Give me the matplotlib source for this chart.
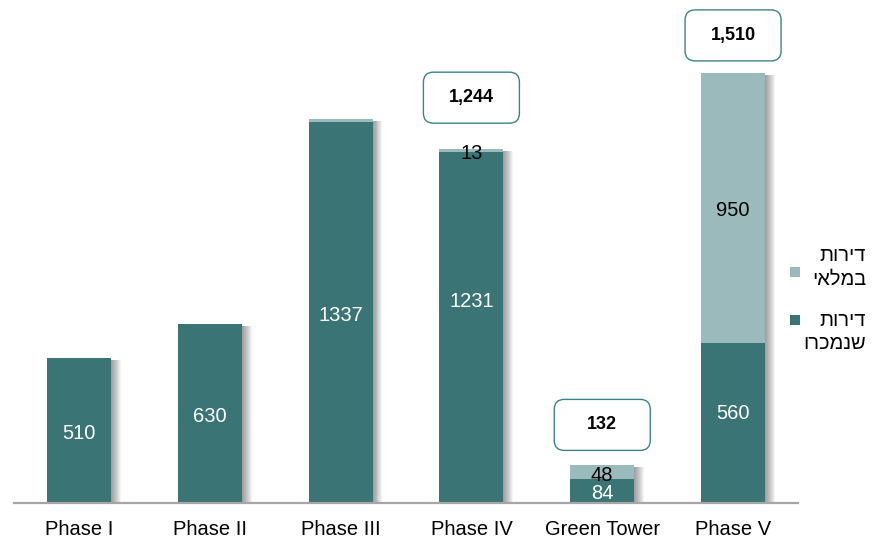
import matplotlib
matplotlib.use("Agg")
import matplotlib.pyplot as plt
import matplotlib.patheffects as pe
from matplotlib.patches import FancyBboxPatch, Rectangle
from matplotlib.transforms import ScaledTranslation
import numpy as np

plt.rcParams['font.family'] = ['Liberation Sans', 'DejaVu Sans']

# Data
categories = ["Phase I", "Phase II", "Phase III", "Phase IV", "Green Tower", "Phase V"]
sold = [510, 630, 1337, 1231, 84, 560]
inventory = [0, 0, 11, 13, 48, 950]
inventory_labels = [None, None, None, "13", "48", "950"]
totals = [None, None, None, 1244, 132, 1510]
total_labels = [None, None, None, "1,244", "132", "1,510"]
legend_labels = ["דירות\nבמלאי", "דירות\nשנמכרו"]

# Styling
DARK = "#3A7474"
LIGHT = "#9BBABB"
BOX_EDGE = "#3C8484"
GRID = "#A6A6A6"

W, H, DPI = 881, 539, 100
fig = plt.figure(figsize=(W / DPI, H / DPI), dpi=DPI)
ax = fig.add_axes([13.5 / W, 36 / H, 785 / W, 503 / H])

x = np.arange(len(categories))
width = 0.49
stack_top = np.array(sold) + np.array(inventory)

# soft drop shadow behind every stacked column
shadow = [pe.SimplePatchShadow(offset=(o, -1.4), shadow_rgbFace="black", alpha=0.045)
          for o in (0.7, 1.4, 2.1, 2.8, 3.5, 4.2, 4.9, 5.6, 6.3, 7.0)]
shadow_bars = ax.bar(x, stack_top, width, color="white", zorder=1)
for b in shadow_bars:
    b.set_path_effects(shadow)

bars_sold = ax.bar(x, sold, width, color=DARK, zorder=2)
bars_inv = ax.bar(x, inventory, width, bottom=sold, color=LIGHT, zorder=2)

ax.set_xlim(-0.5, 5.5)
ax.set_ylim(0, 1766)

# labels on the sold segments (a couple are nudged upward)
sold_nudge = [0, 0, 0, 21, 0, 9]
for xi, v, n in zip(x, sold, sold_nudge):
    ax.annotate(str(v), (xi, v / 2), xytext=(0, n - 2), textcoords="offset points",
                ha="center", va="center", color="white", fontsize=14.5, zorder=4)

# labels on the inventory segments
for xi, s, v, lab in zip(x, sold, inventory, inventory_labels):
    if lab:
        ax.annotate(lab, (xi, s + v / 2), xytext=(0, -2), textcoords="offset points",
                    ha="center", va="center", color="black", fontsize=14.5, zorder=4)

# rounded boxes with the column totals
box_gap_px = [0, 0, 0, 51, 40.5, 37.5]
for xi, t, lab, gap in zip(x, totals, total_labels, box_gap_px):
    if t is None:
        continue
    tr = fig.dpi_scale_trans + ScaledTranslation(xi, t, ax.transData)
    box = FancyBboxPatch((-0.48, gap / DPI - 0.255), 0.96, 0.51,
                         boxstyle="round,pad=0,rounding_size=0.1",
                         transform=tr, facecolor="white", edgecolor=BOX_EDGE,
                         linewidth=1.0, zorder=5, clip_on=False)
    ax.add_patch(box)
    ax.annotate(lab, (xi, t), xytext=(0, gap * 72 / DPI), textcoords="offset points",
                ha="center", va="center", fontsize=13, fontweight="bold",
                color="black", zorder=6)

# axes styling
for side in ("left", "right", "top"):
    ax.spines[side].set_visible(False)
ax.spines["bottom"].set_color(GRID)
ax.spines["bottom"].set_linewidth(1.6)
ax.spines["bottom"].set_zorder(3)
ax.set_yticks([])
ax.set_xticks(x)
ax.set_xticklabels(categories, fontsize=14.5)
ax.tick_params(axis="x", length=0, pad=12)
ax.patch.set_alpha(0)

# legend (Hebrew text is written right-to-left, so reverse each line for drawing)
def rtl(s):
    return "\n".join(line[::-1] for line in s.split("\n"))

leg_items = [(LIGHT, legend_labels[0], 272, 267), (DARK, legend_labels[1], 320, 332)]
for color, lab, sq_y, txt_y in leg_items:
    fig.patches.append(Rectangle((789.5 / W, 1 - (sq_y + 5) / H), 10 / W, 10 / H,
                                 transform=fig.transFigure, facecolor=color,
                                 edgecolor="none"))
    fig.text(866 / W, 1 - txt_y / H, rtl(lab), ha="right", va="center",
             multialignment="right", fontsize=14.5, linespacing=1.3)

fig.savefig("out.png", dpi=DPI)
